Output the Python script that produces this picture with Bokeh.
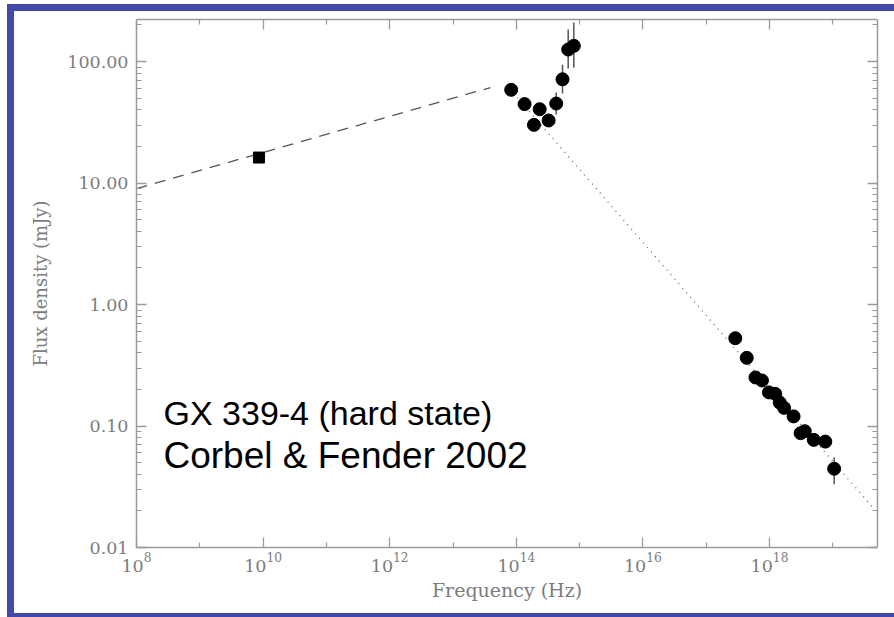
from bokeh.plotting import figure
from bokeh.models import (FixedTicker, LogAxis, NumeralTickFormatter, LogTickFormatter,
                          Range1d)
from bokeh.embed import file_html
from bokeh.resources import INLINE
from bokeh.core.properties import value

# ---------------- data ----------------
radio_freq = [8.6e9]
radio_flux = [16.2]

oir_freq = [8.3e13, 1.35e14, 1.9e14, 2.34e14, 3.24e14, 4.27e14, 5.37e14, 6.6e14, 8.1e14]
oir_flux = [58.5, 44.6, 30.1, 40.5, 32.7, 45.1, 71.4, 125.5, 134.6]

xray_freq = [2.88e17, 4.37e17, 6.0e17, 7.6e17, 9.8e17, 1.23e18, 1.45e18, 1.7e18,
             2.4e18, 3.1e18, 3.6e18, 5.0e18, 7.6e18, 1.05e19]
xray_flux = [0.528, 0.364, 0.251, 0.237, 0.189, 0.184, 0.156, 0.141,
             0.120, 0.0873, 0.0906, 0.0769, 0.0744, 0.0445]

err_freq = [4.27e14, 5.37e14, 6.6e14, 8.1e14, 1.05e19]
err_lo = [36.6, 54.6, 87.5, 89.0, 0.0331]
err_hi = [55.6, 94.0, 183.0, 209.0, 0.0553]

jet_freq = [1e8, 3.9e13]
jet_flux = [9.0, 61.0]

sync_freq = [9e13, 4.7e19]
sync_flux = [55.0, 0.0202]

x_major = [1e8, 1e10, 1e12, 1e14, 1e16, 1e18]
x_minor = [1e9, 1e11, 1e13, 1e15, 1e17, 1e19]
y_major = [0.01, 0.1, 1.0, 10.0, 100.0]
y_minor = [k * d for d in [0.01, 0.1, 1.0, 10.0, 100.0] for k in range(2, 10)]

note1 = ["GX 339-4 (hard state)"]
note2 = ["Corbel & Fender 2002"]
note_x = [2.67e8]
note1_y = [0.129]
note2_y = [0.0577]

# ---------------- figure ----------------
BLUE = "#4349A8"
AX = "#9a9a9a"
LBL = "#7c7c7c"
SERIF = "DejaVu Serif"

p = figure(width=880, height=602, x_axis_type="log", y_axis_type="log",
           x_range=Range1d(1e8, 5.08e19), y_range=Range1d(0.01, 221.7),
           output_backend="svg", toolbar_location=None,
           min_border_left=122, min_border_right=17, min_border_top=8, min_border_bottom=66)
# blue slide frame drawn as CSS shadows (do not affect layout)
p.styles = {"margin-left": "14px", "margin-top": "11px",
            "box-shadow": (f"-7px 0px 0px 0px {BLUE}, 0px -7px 0px 0px {BLUE}, "
                           f"-7px -7px 0px 0px {BLUE}, 0px 4px 0px 0px {BLUE}, "
                           f"-7px 4px 0px 0px {BLUE}")}
p.grid.visible = False
p.outline_line_color = None
p.background_fill_color = "white"
p.border_fill_color = "white"

def style_axis(ax, labels=True):
    ax.axis_line_color = AX
    ax.axis_line_width = 1.5
    ax.major_tick_line_color = AX
    ax.minor_tick_line_color = AX
    ax.major_tick_line_width = 1.3
    ax.minor_tick_line_width = 1.2
    ax.major_tick_in = 10
    ax.major_tick_out = 0
    ax.minor_tick_in = 5
    ax.minor_tick_out = 0
    ax.major_label_text_font = SERIF
    ax.major_label_text_font_size = "17.5px"
    ax.major_label_text_color = LBL
    if not labels:
        ax.major_label_text_font_size = "0px"
        ax.major_label_text_color = None

xt = FixedTicker(ticks=x_major, minor_ticks=x_minor)
yt = FixedTicker(ticks=y_major, minor_ticks=y_minor)

xa = p.xaxis[0]
xa.ticker = xt
xa.formatter = LogTickFormatter()
style_axis(xa)
xa.major_label_standoff = 5
xa.axis_label = "Frequency (Hz)"
xa.axis_label_text_font = SERIF
xa.axis_label_text_font_size = "19px"
xa.axis_label_text_font_style = "normal"
xa.axis_label_text_color = LBL
xa.axis_label_standoff = 4

ya = p.yaxis[0]
ya.ticker = yt
ya.formatter = NumeralTickFormatter(format="0.00")
style_axis(ya)
ya.major_label_standoff = 8
ya.axis_label = "Flux density (mJy)"
ya.axis_label_text_font = SERIF
ya.axis_label_text_font_size = "18px"
ya.axis_label_text_font_style = "normal"
ya.axis_label_text_color = LBL
ya.axis_label_standoff = 13

top = LogAxis(ticker=FixedTicker(ticks=x_major, minor_ticks=x_minor))
style_axis(top, labels=False)
p.add_layout(top, "above")
right = LogAxis(ticker=FixedTicker(ticks=y_major, minor_ticks=y_minor))
style_axis(right, labels=False)
p.add_layout(right, "right")

# model lines
p.line(jet_freq, jet_flux, line_color="#555555", line_width=1.3, line_dash="11 8")
p.line(sync_freq, sync_flux, line_color="#666666", line_width=1.3, line_dash="1 5")

# error bars
p.segment(x0=err_freq, y0=err_lo, x1=err_freq, y1=err_hi, line_color="#555555", line_width=1.5)

# data points
p.scatter(radio_freq, radio_flux, marker="square", size=11, fill_color="black", line_color="black")
p.scatter(oir_freq, oir_flux, marker="circle", size=13, fill_color="black", line_color="black")
p.scatter(xray_freq, xray_flux, marker="circle", size=13, fill_color="black", line_color="black")

# annotation
p.text(x=note_x, y=note1_y, text=note1, text_font=value("Liberation Sans"),
       text_font_size="34px", text_color="black", text_baseline="alphabetic", text_align="left")
p.text(x=note_x, y=note2_y, text=note2, text_font=value("Liberation Sans"),
       text_font_size="37px", text_color="black", text_baseline="alphabetic", text_align="left")

open("out.html", "w").write(file_html(p, INLINE))
